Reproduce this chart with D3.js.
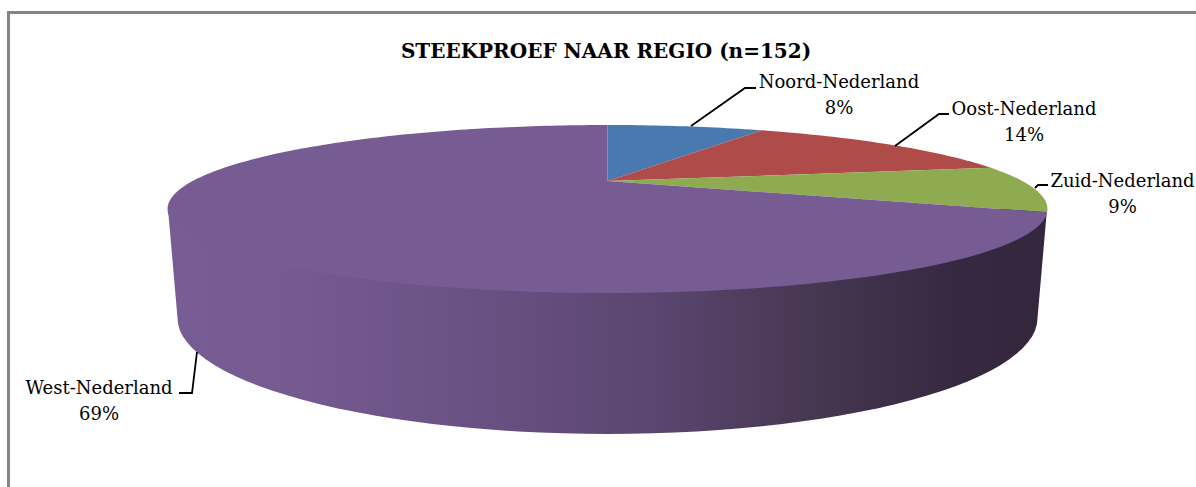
<!DOCTYPE html>
<html>

<head>
    <meta charset="UTF-8">
    <title>Steekproef naar regio</title>
    <style>
        body { margin: 0; background: #fff; }
        svg { display: block; }
        text { font-family: 'DejaVu Serif', serif; fill: #000; }
    </style>
</head>

<body>
    <svg></svg>
    <script src="https://d3js.org/d3.v7.min.js"></script>
    <script>
        const regions = ["Noord-Nederland", "Oost-Nederland", "Zuid-Nederland", "West-Nederland"];
        const shares = [8, 14, 9, 69];
        const colors = ["#4a79b0", "#af4b48", "#8fab52", "#775c93"];
        const title = "STEEKPROEF NAAR REGIO (n=152)";

        const width = 1196,
            height = 487;

        const svg = d3.select("svg")
            .attr("width", width)
            .attr("height", height);

        // pie is tilted with perspective, so the apex sits above the centre of the ellipse
        const apex = { x: 607.5, y: 181 };
        const persp = 1 / 3, spreadX = 414.8, spreadY = 74.67;

        function project(a) {
            const w = 1 + persp * Math.cos(a);
            return [apex.x + spreadX * Math.sin(a) / w, apex.y - spreadY * Math.cos(a) / w];
        }

        // frame, only top and left are visible
        svg.append("path")
            .attr("d", "M1196,12.5H8.5V487")
            .attr("fill", "none")
            .attr("stroke", "#858585")
            .attr("stroke-width", 3);

        // side wall
        const defs = svg.append("defs");
        const grad = defs.append("linearGradient")
            .attr("id", "wall")
            .attr("gradientUnits", "userSpaceOnUse")
            .attr("x1", 168).attr("x2", 1047).attr("y1", 0).attr("y2", 0);
        [[0, "#785d95"], [0.12, "#765b92"], [0.35, "#6a5183"], [0.55, "#5a4670"],
            [0.75, "#45364f"], [0.9, "#35283f"], [1, "#33263d"]].forEach(s => {
                grad.append("stop").attr("offset", s[0]).attr("stop-color", s[1]);
            });

        const bottom = { cx: 607.5, cy: 318, rx: 430, ry: 116 };
        const wallPts = [[168, 209]]
            .concat(d3.range(0, 181, 3).map(d => {
                const t = Math.PI - d * Math.PI / 180;
                return [bottom.cx + bottom.rx * Math.cos(t), bottom.cy + bottom.ry * Math.sin(t)];
            }))
            .concat([[1047, 209]]);

        svg.append("path")
            .attr("d", d3.line()(wallPts) + "Z")
            .attr("fill", "url(#wall)");

        // top face
        const arcs = d3.pie().sort(null).value(d => d)(shares);
        const line = d3.line();

        svg.append("g")
            .selectAll("path")
            .data(arcs)
            .enter().append("path")
            .attr("fill", (d, i) => colors[i])
            .attr("d", d => {
                const n = Math.ceil((d.endAngle - d.startAngle) / 0.02);
                const rim = d3.range(n + 1).map(i => project(d.startAngle + (d.endAngle - d.startAngle) * i / n));
                return line([[apex.x, apex.y]].concat(rim)) + "Z";
            });

        // leader lines
        const leaders = [
            [[691, 126], [745, 88], [756, 88]],
            [[895, 146], [939, 114], [949, 114]],
            [[1035, 188], [1038, 185], [1048, 185]],
            [[197, 352], [192, 393], [179, 393]]
        ];

        svg.append("g")
            .selectAll("path")
            .data(leaders)
            .enter().append("path")
            .attr("d", d => line(d))
            .attr("fill", "none")
            .attr("stroke", "#000")
            .attr("stroke-width", 1.8);

        // labels
        const labelPos = [[839, 88], [1024, 115], [1122.5, 187], [99, 394]];

        const labels = svg.append("g")
            .selectAll("text")
            .data(regions)
            .enter().append("text")
            .attr("text-anchor", "middle")
            .attr("font-size", 18);

        labels.append("tspan")
            .attr("x", (d, i) => labelPos[i][0])
            .attr("y", (d, i) => labelPos[i][1])
            .text(d => d);

        labels.append("tspan")
            .attr("x", (d, i) => labelPos[i][0])
            .attr("y", (d, i) => labelPos[i][1] + 26)
            .text((d, i) => shares[i] + "%");

        svg.append("text")
            .attr("x", 606)
            .attr("y", 58)
            .attr("text-anchor", "middle")
            .attr("font-size", 20)
            .attr("font-weight", "bold")
            .text(title);
    </script>
</body>

</html>
